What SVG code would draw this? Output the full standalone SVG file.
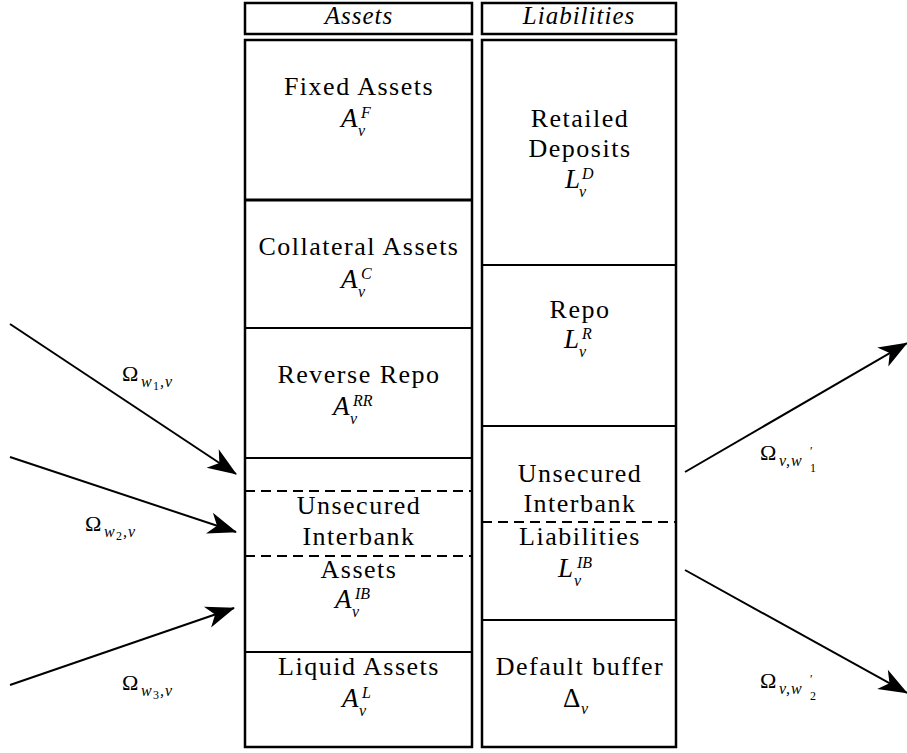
<svg xmlns="http://www.w3.org/2000/svg" width="907" height="753" viewBox="0 0 907 753">
<style>
.box{fill:none;stroke:#000;stroke-width:2.5}
.dv{stroke:#000;stroke-width:2}
.dash{stroke:#000;stroke-width:2;stroke-dasharray:10 6}
text{font-family:'Liberation Serif','Times New Roman',serif;fill:#000}
.t{font-size:26px;letter-spacing:1.5px;text-anchor:middle}
.h{font-size:25px;font-style:italic;letter-spacing:1px;text-anchor:middle}
.m{font-style:italic;font-size:27px}
.up{font-size:27px}
.ms{font-style:italic;font-size:16px}
.o{font-size:22px}
.os{font-style:italic;font-size:16px;letter-spacing:1px}
.oss{font-size:12px;font-style:normal;letter-spacing:0}
.arrow{stroke:#000;stroke-width:2;fill:none;marker-end:url(#ah)}
</style>
<defs>
<marker id="ah" markerUnits="userSpaceOnUse" markerWidth="32" markerHeight="26" viewBox="-30 -13 32 26" refX="0" refY="0" orient="auto">
<path d="M1,0 L-28,-11 L-20,0 L-28,11 Z" fill="#000"/>
</marker>
</defs>
<rect width="907" height="753" fill="#fff"/>

<g id="header-assets">
<rect class="box" x="245" y="3" width="227" height="31"/>
<text class="h" x="359" y="24">Assets</text>
</g>
<g id="header-liabilities">
<rect class="box" x="482" y="3" width="194" height="31"/>
<text class="h" x="579" y="24">Liabilities</text>
</g>

<g id="assets-column">
<rect class="box" x="245" y="40" width="227" height="707"/>
</g>
<g id="liabilities-column">
<rect class="box" x="482" y="40" width="194" height="707"/>
</g>

<g id="fixed-assets">
<text class="t" x="359" y="95">Fixed Assets</text>
<text class="m"><tspan x="341" y="127">A</tspan><tspan class="ms" x="361" y="118">F</tspan><tspan class="ms" x="358" y="136">v</tspan></text>
</g>
<g id="collateral-assets">
<line class="dv" x1="245" y1="200" x2="472" y2="200" style="stroke-width:3"/>
<text class="t" x="359" y="255">Collateral Assets</text>
<text class="m"><tspan x="341" y="288">A</tspan><tspan class="ms" x="361" y="279">C</tspan><tspan class="ms" x="358" y="297">v</tspan></text>
</g>
<g id="reverse-repo">
<line class="dv" x1="245" y1="328" x2="472" y2="328"/>
<text class="t" x="359" y="383">Reverse Repo</text>
<text class="m"><tspan x="333" y="415">A</tspan><tspan class="ms" x="353" y="406">RR</tspan><tspan class="ms" x="350" y="424">v</tspan></text>
</g>
<g id="unsecured-interbank-assets">
<line class="dv" x1="245" y1="458" x2="472" y2="458"/>
<line class="dash" x1="245" y1="491" x2="472" y2="491"/>
<line class="dash" x1="245" y1="556" x2="472" y2="556"/>
<text class="t" x="359" y="514">Unsecured</text>
<text class="t" x="359" y="545">Interbank</text>
<text class="t" x="359" y="578">Assets</text>
<text class="m"><tspan x="335" y="608">A</tspan><tspan class="ms" x="355" y="599">IB</tspan><tspan class="ms" x="352" y="617">v</tspan></text>
</g>
<g id="liquid-assets">
<line class="dv" x1="245" y1="652" x2="472" y2="652"/>
<text class="t" x="359" y="675">Liquid Assets</text>
<text class="m"><tspan x="342" y="707">A</tspan><tspan class="ms" x="362" y="698">L</tspan><tspan class="ms" x="359" y="716">v</tspan></text>
</g>

<g id="retailed-deposits">
<text class="t" x="580" y="127">Retailed</text>
<text class="t" x="580" y="157">Deposits</text>
<text class="m"><tspan x="565" y="188">L</tspan><tspan class="ms" x="582" y="179">D</tspan><tspan class="ms" x="579" y="197">v</tspan></text>
</g>
<g id="repo">
<line class="dv" x1="482" y1="265" x2="676" y2="265"/>
<text class="t" x="580" y="318">Repo</text>
<text class="m"><tspan x="564" y="348">L</tspan><tspan class="ms" x="582" y="339">R</tspan><tspan class="ms" x="579" y="357">v</tspan></text>
</g>
<g id="unsecured-interbank-liabilities">
<line class="dv" x1="482" y1="426" x2="676" y2="426"/>
<line class="dash" x1="482" y1="522" x2="676" y2="522"/>
<text class="t" x="580" y="482">Unsecured</text>
<text class="t" x="580" y="512">Interbank</text>
<text class="t" x="580" y="545">Liabilities</text>
<text class="m"><tspan x="558" y="577">L</tspan><tspan class="ms" x="577" y="568">IB</tspan><tspan class="ms" x="574" y="586">v</tspan></text>
</g>
<g id="default-buffer">
<line class="dv" x1="482" y1="620" x2="676" y2="620"/>
<text class="t" x="580" y="675">Default buffer</text>
<text class="up"><tspan x="563" y="707">Δ</tspan><tspan class="ms" x="581" y="714">v</tspan></text>
</g>

<g id="connectors">
<line class="arrow" x1="10" y1="324" x2="236" y2="474"/>
<line class="arrow" x1="10" y1="457" x2="236" y2="532"/>
<line class="arrow" x1="10" y1="685" x2="234" y2="608"/>
<line class="arrow" x1="685" y1="472" x2="907" y2="343"/>
<line class="arrow" x1="685" y1="570" x2="907" y2="693"/>
</g>

<g id="label-w1v">
<text class="o"><tspan x="122" y="381">Ω</tspan><tspan class="os" x="141" y="387">w</tspan><tspan class="oss" x="153" y="390">1</tspan><tspan class="os" x="160" y="387">,v</tspan></text>
</g>
<g id="label-w2v">
<text class="o"><tspan x="85" y="531">Ω</tspan><tspan class="os" x="104" y="537">w</tspan><tspan class="oss" x="116" y="540">2</tspan><tspan class="os" x="123" y="537">,v</tspan></text>
</g>
<g id="label-w3v">
<text class="o"><tspan x="122" y="690">Ω</tspan><tspan class="os" x="141" y="696">w</tspan><tspan class="oss" x="153" y="699">3</tspan><tspan class="os" x="160" y="696">,v</tspan></text>
</g>
<g id="label-vw1">
<text class="o"><tspan x="760" y="460">Ω</tspan><tspan class="os" x="779" y="466">v,w</tspan><tspan class="oss" x="810" y="455">′</tspan><tspan class="oss" x="810" y="472">1</tspan></text>
</g>
<g id="label-vw2">
<text class="o"><tspan x="760" y="688">Ω</tspan><tspan class="os" x="779" y="694">v,w</tspan><tspan class="oss" x="810" y="683">′</tspan><tspan class="oss" x="810" y="700">2</tspan></text>
</g>
</svg>
